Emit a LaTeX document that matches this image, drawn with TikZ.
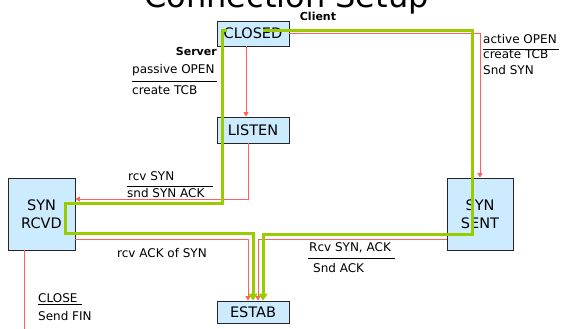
\documentclass[tikz,border=0pt]{standalone}
\usepackage{fontspec}
\setmainfont{DejaVu Sans}
\usetikzlibrary{arrows.meta,calc}
\definecolor{statefill}{RGB}{204,235,255}
\definecolor{edgered}{RGB}{255,95,95}
\definecolor{pathgreen}{RGB}{153,204,0}
\begin{document}
\begin{tikzpicture}[x=1pt,y=-1pt,
  state/.style={draw=black!85, line width=0.8pt, fill=statefill, inner sep=0pt,
    align=center, font=\fontsize{14.5}{18}\selectfont},
  redge/.style={draw=edgered, line width=0.9pt, -{Triangle[length=4.5pt,width=5pt]}},
  redline/.style={draw=edgered, line width=0.9pt},
  gpath/.style={draw=pathgreen, line width=3pt, -{Triangle[length=7pt,width=9pt]}},
  lbl/.style={inner sep=0pt, anchor=base west, font=\fontsize{12}{14}\selectfont},
  blbl/.style={inner sep=0pt, font=\fontsize{11}{13}\selectfont\bfseries},
  rule/.style={draw=black, line width=0.8pt}]
\useasboundingbox (0,0) rectangle (563,329);
\clip (0,0) rectangle (563,329);

% title, cut by the top edge
\node[inner sep=0pt, anchor=base, text depth=0pt, font=\fontsize{32}{36}\selectfont] (title) at (286.5,8) {Connection Setup};

% states
\node[state, minimum width=72pt, minimum height=25pt] (closed) at (253,33.5) {CLOSED};
\node[state, minimum width=72pt, minimum height=26pt] (listen) at (253,130) {LISTEN};
\node[state, minimum width=67pt, minimum height=72pt] (synrcvd) at (41.5,214) {SYN\\RCVD};
\node[state, minimum width=66pt, minimum height=72pt] (synsent) at (480,214) {SYN\\SENT};
\node[state, minimum width=72pt, minimum height=22pt] (estab) at (253,312) {ESTAB};

% transitions
\draw[redge] ($(closed.south)+(-7,0)$) -- ($(listen.north)+(-7,0)$);
\draw[redge] (closed.east) -| (synsent.north);
\draw[redge] ($(listen.south)+(-5,0)$) |- ($(synrcvd.east)+(0,-15)$);
\draw[redge] ($(synrcvd.east)+(0,25)$) -| ($(estab.north)+(-5,0)$);
\draw[redge] ($(synsent.west)+(0,25)$) -| ($(estab.north)+(5,0)$);
\coordinate (closeend) at (24,335);
\draw[redline] ($(synrcvd.south)+(-17.5,0)$) -- (closeend);

% server and client paths
\coordinate (srvturn) at (65,203);
\draw[gpath] ($(closed.west)+(10,-2.5)$) -- ++(-4,0) |- (srvturn) |- ($(estab.north)+(0,-67)$) -- (estab.north);
\draw[gpath] ($(closed.center)+(10,-2.5)$) -| ($(synsent.center)+(-8,20)$) -| ($(estab.north)+(10,0)$);

% labels
\node[blbl, anchor=base] (client) at (318,21) {Client};
\node[blbl, anchor=base east] (server) at (217,56) {Server};
\node[lbl] (popen) at (132,74) {passive OPEN};
\draw[rule] (132,81) -- (217,81);
\node[lbl] (ptcb) at (132,95) {create TCB};

\node[lbl] (aopen) at (483,44) {active OPEN};
\draw[rule] (483,49) -- (559,49);
\node[lbl] (atcb) at (483,59) {create TCB};
\node[lbl] (asyn) at (483,75) {Snd SYN};

\node[lbl] (rsyn) at (128,180) {rcv SYN};
\draw[rule] (127,186) -- (213,186);
\node[lbl] (ssynack) at (127,197) {snd SYN ACK};

\node[lbl] (rack) at (117,257) {rcv ACK of SYN};

\node[lbl] (rsynack) at (309,251) {Rcv SYN, ACK};
\draw[rule] (308,258) -- (395,258);
\node[lbl] (sack) at (313,272) {Snd ACK};

\node[lbl] (close) at (38,302) {CLOSE};
\draw[rule] (38,304) -- (82,304);
\node[lbl] (sfin) at (38,320) {Send FIN};
\end{tikzpicture}
\end{document}
